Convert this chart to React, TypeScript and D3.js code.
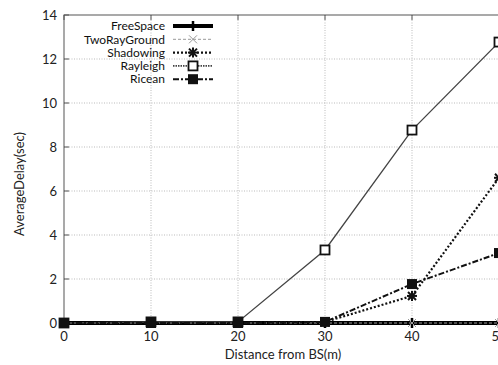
import React from "react";
import * as d3 from "d3";

const distances = [0, 10, 20, 30, 40, 50];
const freeSpace = [0, 0, 0, 0, 0, 0];
const twoRayGround = [0, 0, 0, 0, 0, 0];
const shadowing = [0, 0, 0, 0.05, 1.23, 6.6];
const rayleigh = [0, 0.05, 0.05, 3.32, 8.77, 12.77];
const ricean = [0, 0, 0, 0.05, 1.77, 3.18];
const xTicks = [0, 10, 20, 30, 40, 50];
const yTicks = [0, 2, 4, 6, 8, 10, 12, 14];

type SeriesDef = {
  name: string;
  values: number[];
  stroke: string;
  width: number;
  dash: string;
  marker: string;
};

const series: SeriesDef[] = [
  { name: "FreeSpace", values: freeSpace, stroke: "#000", width: 4, dash: "", marker: "plus" },
  { name: "TwoRayGround", values: twoRayGround, stroke: "#999", width: 1, dash: "3,2", marker: "cross" },
  { name: "Shadowing", values: shadowing, stroke: "#111", width: 2.2, dash: "2,2", marker: "star" },
  { name: "Rayleigh", values: rayleigh, stroke: "#444", width: 1.3, dash: "", marker: "openSquare" },
  { name: "Ricean", values: ricean, stroke: "#111", width: 2, dash: "6,2,2,2", marker: "filledSquare" },
];

const W = 498;
const H = 365;
const left = 64;
const right = 499;
const top = 15;
const bottom = 323;

const FONT = "Lato, 'Open Sans', sans-serif";

function Marker({ type, x, y, color }: { type: string; x: number; y: number; color: string }) {
  if (type === "plus") {
    return (
      <g stroke={color} strokeWidth={2.5}>
        <line x1={x - 5} x2={x + 5} y1={y} y2={y} />
        <line x1={x} x2={x} y1={y - 5} y2={y + 5} />
      </g>
    );
  }
  if (type === "cross") {
    return (
      <g stroke={color} strokeWidth={1}>
        <line x1={x - 4} x2={x + 4} y1={y - 4} y2={y + 4} />
        <line x1={x - 4} x2={x + 4} y1={y + 4} y2={y - 4} />
      </g>
    );
  }
  if (type === "star") {
    return (
      <g stroke={color} strokeWidth={2}>
        <line x1={x - 4} x2={x + 4} y1={y - 4} y2={y + 4} />
        <line x1={x - 4} x2={x + 4} y1={y + 4} y2={y - 4} />
        <line x1={x - 5} x2={x + 5} y1={y} y2={y} />
        <line x1={x} x2={x} y1={y - 5} y2={y + 5} />
      </g>
    );
  }
  if (type === "openSquare") {
    return <rect x={x - 4.5} y={y - 4.5} width={9} height={9} fill="#fff" stroke="#111" strokeWidth={1.8} />;
  }
  return <rect x={x - 5} y={y - 5} width={10} height={10} fill="#111" />;
}

export default function App() {
  const xScale = d3.scaleLinear().domain([0, 50]).range([left, right]);
  const yScale = d3.scaleLinear().domain([0, 14]).range([bottom, top]);
  const line = d3
    .line<number>()
    .x((_, i) => xScale(distances[i]))
    .y((d) => yScale(d));

  return (
    <svg
      width={W}
      height={H}
      style={{ position: "absolute", left: 0, top: 0, background: "#fff" }}
      fontFamily={FONT}
    >
      <rect x={0} y={0} width={W} height={H} fill="#fff" />
      {/* grid */}
      <g stroke="#bbb" strokeWidth={1} strokeDasharray="1,1.5">
        {xTicks.slice(1, -1).map((t) => (
          <line key={"gx" + t} x1={xScale(t)} x2={xScale(t)} y1={top} y2={bottom} />
        ))}
        {yTicks.slice(1, -1).map((t) => (
          <line key={"gy" + t} x1={left} x2={right} y1={yScale(t)} y2={yScale(t)} />
        ))}
      </g>
      {/* frame */}
      <rect x={left} y={top} width={right - left} height={bottom - top} fill="none" stroke="#555" strokeWidth={1} />
      {/* ticks */}
      <g stroke="#555" strokeWidth={1}>
        {xTicks.map((t) => (
          <g key={"tx" + t}>
            <line x1={xScale(t)} x2={xScale(t)} y1={bottom} y2={bottom - 5} />
            <line x1={xScale(t)} x2={xScale(t)} y1={top} y2={top + 5} />
          </g>
        ))}
        {yTicks.map((t) => (
          <line key={"ty" + t} x1={left} x2={left + 5} y1={yScale(t)} y2={yScale(t)} />
        ))}
      </g>
      {/* tick labels */}
      <g fontSize={13} fill="#222">
        {xTicks.map((t) => (
          <text key={"lx" + t} x={xScale(t)} y={bottom + 18} textAnchor="middle">
            {t}
          </text>
        ))}
        {yTicks.map((t) => (
          <text key={"ly" + t} x={left - 7} y={yScale(t) + 4.5} textAnchor="end">
            {t}
          </text>
        ))}
      </g>
      <text x={283} y={359} fontSize={13} textAnchor="middle" fill="#222">
        Distance from BS(m)
      </text>
      <text
        x={0}
        y={0}
        transform={`translate(24,${(top + bottom) / 2 + 15}) rotate(-90)`}
        fontSize={13}
        textAnchor="middle"
        fill="#222"
      >
        AverageDelay(sec)
      </text>
      {/* series */}
      {series.map((s) => (
        <g key={s.name}>
          <path
            d={line(s.values) || ""}
            fill="none"
            stroke={s.stroke}
            strokeWidth={s.width}
            strokeDasharray={s.dash}
          />
          {s.values.map((v, i) => (
            <Marker key={i} type={s.marker} x={xScale(distances[i])} y={yScale(v)} color={s.stroke} />
          ))}
        </g>
      ))}
      {/* legend */}
      <g fontSize={12} fill="#111">
        {series.map((s, i) => {
          const y = 26 + i * 13.3;
          return (
            <g key={"lg" + s.name}>
              <text x={165} y={y + 4.2} textAnchor="end">
                {s.name}
              </text>
              <line
                x1={173}
                x2={213}
                y1={y}
                y2={y}
                stroke={s.stroke}
                strokeWidth={s.name === "Rayleigh" ? 1.6 : s.width}
                strokeDasharray={s.name === "Rayleigh" ? "1.5,1" : s.dash}
              />
              <Marker type={s.marker} x={193} y={y} color={s.stroke} />
            </g>
          );
        })}
      </g>
    </svg>
  );
}
